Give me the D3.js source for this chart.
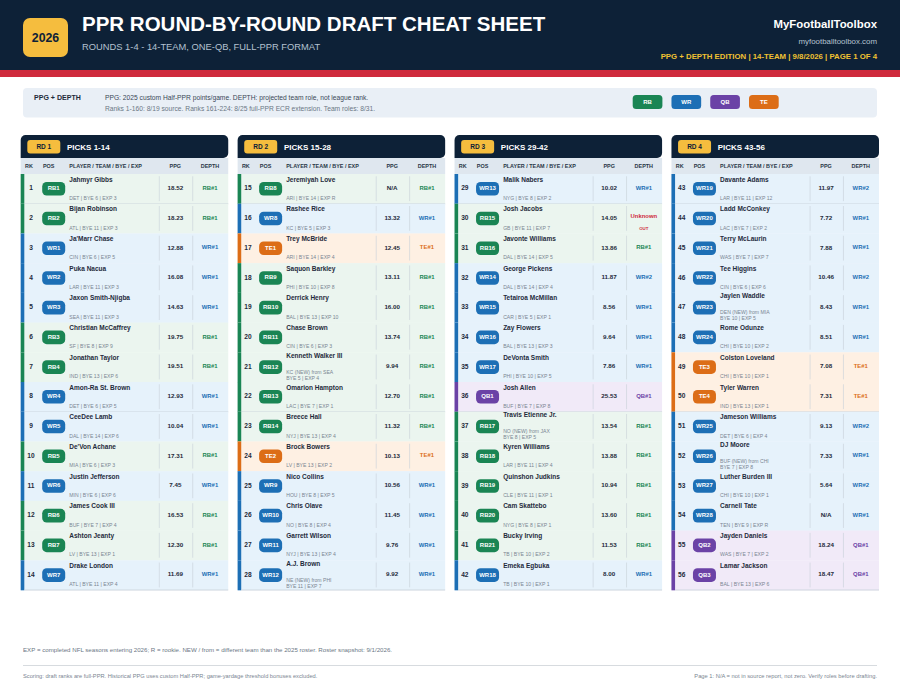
<!DOCTYPE html>
<html><head><meta charset="utf-8">
<script src="https://cdn.jsdelivr.net/npm/d3@7/dist/d3.min.js"></script>
<style>html,body{margin:0;padding:0;background:#fff}svg{display:block}text{font-family:"Liberation Sans",Arial,sans-serif}</style>
</head><body><div id="chart"></div>
<script>
// ---------- data ----------
const roundNames = ["RD 1","RD 2","RD 3","RD 4"];
const pickRanges = ["PICKS 1-14","PICKS 15-28","PICKS 29-42","PICKS 43-56"];
const columnLabels = ["RK","POS","PLAYER / TEAM / BYE / EXP","PPG","DEPTH"];
const legendPositions = ["RB","WR","QB","TE"];
const players = ["Jahmyr Gibbs","Bijan Robinson","Ja'Marr Chase","Puka Nacua","Jaxon Smith-Njigba","Christian McCaffrey","Jonathan Taylor","Amon-Ra St. Brown","CeeDee Lamb","De'Von Achane","Justin Jefferson","James Cook III","Ashton Jeanty","Drake London",
"Jeremiyah Love","Rashee Rice","Trey McBride","Saquon Barkley","Derrick Henry","Chase Brown","Kenneth Walker III","Omarion Hampton","Breece Hall","Brock Bowers","Nico Collins","Chris Olave","Garrett Wilson","A.J. Brown",
"Malik Nabers","Josh Jacobs","Javonte Williams","George Pickens","Tetairoa McMillan","Zay Flowers","DeVonta Smith","Josh Allen","Travis Etienne Jr.","Kyren Williams","Quinshon Judkins","Cam Skattebo","Bucky Irving","Emeka Egbuka",
"Davante Adams","Ladd McConkey","Terry McLaurin","Tee Higgins","Jaylen Waddle","Rome Odunze","Colston Loveland","Tyler Warren","Jameson Williams","DJ Moore","Luther Burden III","Carnell Tate","Jayden Daniels","Lamar Jackson"];
const posTags = ["RB1","RB2","WR1","WR2","WR3","RB3","RB4","WR4","WR5","RB5","WR6","RB6","RB7","WR7",
"RB8","WR8","TE1","RB9","RB10","RB11","RB12","RB13","RB14","TE2","WR9","WR10","WR11","WR12",
"WR13","RB15","RB16","WR14","WR15","WR16","WR17","QB1","RB17","RB18","RB19","RB20","RB21","WR18",
"WR19","WR20","WR21","WR22","WR23","WR24","TE3","TE4","WR25","WR26","WR27","WR28","QB2","QB3"];
const teams = ["DET","ATL","CIN","LAR","SEA","SF","IND","DET","DAL","MIA","MIN","BUF","LV","ATL",
"ARI","KC","ARI","PHI","BAL","CIN","KC","LAC","NYJ","LV","HOU","NO","NYJ","NE",
"NYG","GB","DAL","DAL","CAR","BAL","PHI","BUF","NO","LAR","CLE","NYG","TB","TB",
"LAR","LAC","WAS","CIN","DEN","CHI","CHI","IND","DET","BUF","CHI","TEN","WAS","BAL"];
const byes = [6,11,6,11,11,8,13,6,14,6,6,7,13,11,
14,5,14,10,13,6,5,7,13,13,8,8,13,11,
8,11,14,14,5,13,10,7,8,11,11,8,10,10,
11,7,7,6,10,10,10,13,6,7,10,9,7,13];
const exps = ["3","3","5","3","3","9","6","5","6","3","6","4","1","4",
"R","3","4","8","10","3","4","1","4","2","5","4","4","7",
"2","7","5","4","1","3","5","8","5","4","1","1","2","1",
"12","2","7","6","5","2","1","1","4","8","1","R","2","6"];
const priorTeams = {21:"SEA",28:"PHI",37:"JAX",47:"MIA",52:"CHI"};
const ppg = ["18.52","18.23","12.88","16.08","14.63","19.75","19.51","12.93","10.04","17.31","7.45","16.53","12.30","11.69",
"N/A","13.32","12.45","13.11","16.00","13.74","9.94","12.70","11.32","10.13","10.56","11.45","9.76","9.92",
"10.02","14.05","13.86","11.87","8.56","9.64","7.86","25.53","13.54","13.88","10.94","13.60","11.53","8.00",
"11.97","7.72","7.88","10.46","8.43","8.51","7.08","7.31","9.13","7.33","5.64","N/A","18.24","18.47"];
const depthRanks = [1,1,1,1,1,1,1,1,1,1,1,1,1,1,
1,1,1,1,1,1,1,1,1,1,1,1,1,1,
1,0,1,2,1,1,1,1,1,1,1,1,1,1,
2,1,1,2,1,1,1,1,2,1,2,1,1,1];
const footnote1 = "EXP = completed NFL seasons entering 2026; R = rookie. NEW / from = different team than the 2025 roster. Roster snapshot: 9/1/2026.";
const footnote2 = "Scoring: draft ranks are full-PPR. Historical PPG uses custom Half-PPR; game-yardage threshold bonuses excluded.";
const footnote3 = "Page 1: N/A = not in source report, not zero. Verify roles before drafting.";

// ---------- style ----------
const navy="#0d2137", gold="#f5bd3e";
const posColor={RB:"#1a8554",WR:"#1d6fb5",QB:"#6b42a6",TE:"#dc6d17"};
const posBg={RB:"#ebf5ef",WR:"#e6f2fb",QB:"#f1eaf8",TE:"#fef0e3"};
const W=900,H=696;
const svg=d3.select("#chart").append("svg").attr("width",W).attr("height",H).attr("viewBox",`0 0 ${W} ${H}`);
function txt(g,x,y,s,size,fill,opt={}){ // y is visual centre of caps
  return g.append("text").attr("x",x).attr("y",y+size*0.36).text(s).attr("font-size",size).attr("fill",fill)
   .attr("font-weight",opt.w||"normal").attr("text-anchor",opt.a||"start");
}
// header band
svg.append("rect").attr("width",W).attr("height",70).attr("fill",navy);
svg.append("rect").attr("y",70).attr("width",W).attr("height",7).attr("fill","#cf2a3c");
svg.append("rect").attr("x",23).attr("y",18).attr("width",45).attr("height",39).attr("rx",7).attr("fill",gold);
txt(svg,45.5,37.6,"2026",12.3,navy,{w:"bold",a:"middle"});
txt(svg,82,23.3,"PPR ROUND-BY-ROUND DRAFT CHEAT SHEET",20.5,"#fff",{w:"bold"});
txt(svg,82,46.7,"ROUNDS 1-4 - 14-TEAM, ONE-QB, FULL-PPR FORMAT",9.35,"#b4c1d0");
txt(svg,877,24.2,"MyFootballToolbox",11.4,"#fff",{w:"bold",a:"end"});
txt(svg,877,41.5,"myfootballtoolbox.com",7.9,"#b4c1d0",{a:"end"});
txt(svg,877,56.2,"PPG + DEPTH EDITION | 14-TEAM | 9/8/2026 | PAGE 1 OF 4",7.8,"#f1c232",{w:"bold",a:"end"});

// legend band
svg.append("rect").attr("x",23).attr("y",88).attr("width",854).attr("height",29.5).attr("rx",4).attr("fill","#e9eff6");
txt(svg,34,97.5,"PPG + DEPTH",7.05,"#1e2a3a",{w:"bold"});
txt(svg,105,97.7,"PPG: 2025 custom Half-PPR points/game. DEPTH: projected team role, not league rank.",6.7,"#3a4756");
txt(svg,105,108.7,"Ranks 1-160: 8/19 source. Ranks 161-224: 8/25 full-PPR ECR extension. Team roles: 8/31.",6.7,"#6b7785");
const legendX=d3.scalePoint().domain(legendPositions).range([632.7,749]);
const lg=svg.selectAll("g.lg").data(legendPositions).join("g").attr("class","lg")
  .attr("transform",d=>`translate(${legendX(d)},95)`);
lg.append("rect").attr("width",29.7).attr("height",14).attr("rx",3.5).attr("fill",d=>posColor[d]);
lg.append("text").attr("x",14.85).attr("y",8.8).attr("text-anchor","middle").attr("font-size",6).attr("font-weight","bold").attr("fill","#fff").text(d=>d);

// panels
const panelX=d3.scaleBand().domain(d3.range(4)).range([20.7,879]).paddingInner(9/208).paddingOuter(0);
const PW=panelX.bandwidth();
const rowY=d3.scaleBand().domain(d3.range(14)).range([174,590]);
const RH=rowY.bandwidth();
const colX=[8.2,28,48.6,154.6,189.3];
const rows=players.map((name,i)=>{
  const pos=posTags[i].slice(0,2);
  return {name,rk:i+1,tag:posTags[i],pos,team:teams[i],bye:byes[i],exp:exps[i],prior:priorTeams[i+1],ppg:ppg[i],
    depth:depthRanks[i]};
});
const panels=svg.selectAll("g.panel").data(d3.range(4)).join("g").attr("class","panel")
  .attr("transform",r=>`translate(${panelX(r)},0)`);
panels.each(function(r){
  const g=d3.select(this);
  const data=rows.slice(r*14,(r+1)*14);
  // rows background
  const rowG=g.selectAll("g.row").data(data).join("g").attr("class","row")
    .attr("transform",(d,i)=>`translate(0,${rowY(i)})`);
  rowG.append("rect").attr("width",PW).attr("height",RH+0.3).attr("fill",d=>posBg[d.pos]);
  rowG.append("rect").attr("width",3.6).attr("height",RH+0.3).attr("fill",d=>posColor[d.pos]);
  // dark title
  g.append("path").attr("fill",navy).attr("d",`M0,158 V140 a5,5 0 0 1 5,-5 H${PW-5} a5,5 0 0 1 5,5 V153 a5,5 0 0 1 -5,5 Z`);
  g.append("rect").attr("x",6.6).attr("y",140).attr("width",33).attr("height",13.4).attr("rx",3).attr("fill",gold);
  txt(g,23.1,146.6,roundNames[r],6.5,navy,{w:"bold",a:"middle"});
  txt(g,46.3,147.2,pickRanges[r],8,"#fff",{w:"bold"});
  // column heads
  g.append("rect").attr("y",158).attr("width",PW).attr("height",16).attr("fill","#dfe7ef");
  columnLabels.forEach((c,i)=>txt(g,colX[i],166,c,5.45,"#2a3748",{w:"bold",a:i==2?"start":"middle"}));
  // row content
  rowG.filter((d,i)=>i==0||i==7).append("line").attr("x1",3.6).attr("x2",PW).attr("y1",RH+.1).attr("y2",RH+.1).attr("stroke","#c2cbd3").attr("stroke-width",.7);
  [138.6,172].forEach(x=>rowG.append("line").attr("x1",x).attr("x2",x).attr("y1",2.3).attr("y2",RH-2.6).attr("stroke","#c8d0d8").attr("stroke-width",.6));
  rowG.append("text").attr("x",10.3).attr("y",16.4).attr("text-anchor","middle").attr("font-size",6.6).attr("font-weight","bold").attr("fill","#1f2b3b").text(d=>d.rk);
  rowG.append("rect").attr("x",21.5).attr("y",8).attr("width",23).attr("height",13.6).attr("rx",4.5).attr("fill",d=>posColor[d.pos]);
  rowG.append("text").attr("x",33).attr("y",16.3).attr("text-anchor","middle").attr("font-size",6).attr("font-weight","bold").attr("fill","#fff").text(d=>d.tag);
  rowG.append("text").attr("x",48.6).attr("y",d=>d.prior?5.6:7.6).attr("font-size",6.5).attr("font-weight","bold").attr("fill","#1f2b3b").text(d=>d.name);
  rowG.filter(d=>!d.prior).append("text").attr("x",48.6).attr("y",25.8).attr("font-size",5.1).attr("fill","#7a8592")
    .text(d=>`${d.team} | BYE ${d.bye} | EXP ${d.exp}`);
  const two=rowG.filter(d=>d.prior);
  two.append("text").attr("x",48.6).attr("y",21.6).attr("font-size",5.1).attr("fill","#7a8592").text(d=>`${d.team} (NEW) from ${d.prior}`);
  two.append("text").attr("x",48.6).attr("y",27.6).attr("font-size",5.1).attr("fill","#7a8592").text(d=>`BYE ${d.bye} | EXP ${d.exp}`);
  rowG.append("text").attr("x",154.6).attr("y",16.2).attr("text-anchor","middle").attr("font-size",6.25).attr("font-weight","bold").attr("fill","#1f2b3b").text(d=>d.ppg);
  rowG.filter(d=>d.depth>0).append("text").attr("x",189.3).attr("y",16).attr("text-anchor","middle").attr("font-size",5.9).attr("font-weight","bold").attr("fill",d=>posColor[d.pos]).text(d=>`${d.pos}#${d.depth}`);
  const unk=rowG.filter(d=>d.depth==0);
  unk.append("text").attr("x",189.3).attr("y",13.9).attr("text-anchor","middle").attr("font-size",5.9).attr("font-weight","bold").attr("fill","#cf2a3c").text("Unknown");
  unk.append("text").attr("x",189.3).attr("y",26.6).attr("text-anchor","middle").attr("font-size",4.4).attr("font-weight","bold").attr("fill","#cf2a3c").text("OUT");
  g.append("line").attr("x1",3.6).attr("x2",PW).attr("y1",590).attr("y2",590).attr("stroke","#c8d0d8").attr("stroke-width",.8);
});

// footer
txt(svg,23,650,footnote1,6.15,"#6b7785");
svg.append("line").attr("x1",23).attr("x2",877).attr("y1",665.5).attr("y2",665.5).attr("stroke","#cdd2d7").attr("stroke-width",.8);
txt(svg,23,676,footnote2,5.7,"#7a8592");
txt(svg,877,676,footnote3,5.75,"#7a8592",{a:"end"});
</script></body></html>
